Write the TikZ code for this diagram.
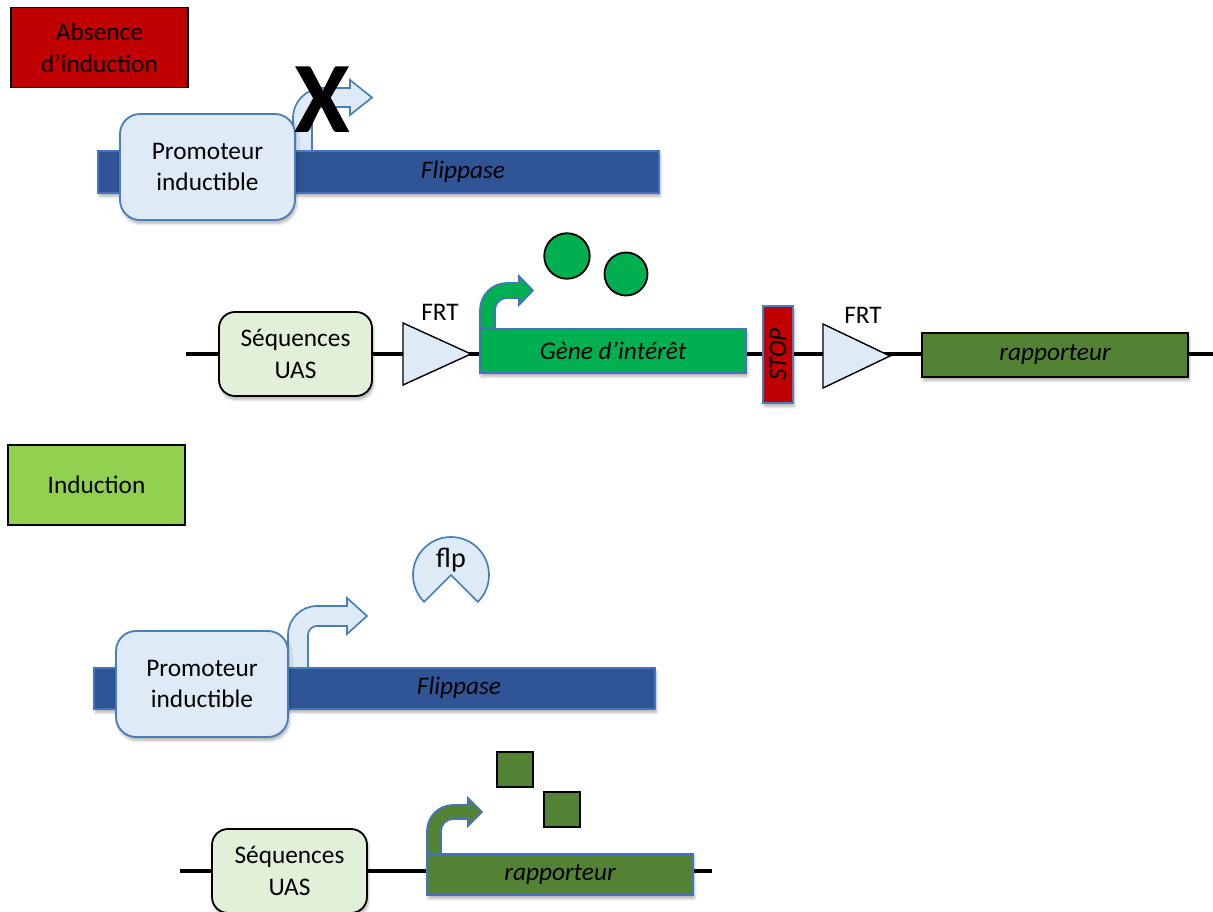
\documentclass[tikz,border=0pt]{standalone}
\usepackage{fontspec}
\setmainfont{Carlito}
\usetikzlibrary{shadows.blur}
\definecolor{dark-red}{HTML}{C00000}
\definecolor{lime-green}{HTML}{92D050}
\definecolor{flip-blue}{HTML}{2F5597}
\definecolor{edge-blue}{HTML}{4472C4}
\definecolor{promo-fill}{HTML}{DEEBF7}
\definecolor{promo-line}{HTML}{4A7EBB}
\definecolor{uas-fill}{HTML}{E2F0D9}
\definecolor{gene-green}{HTML}{00B050}
\definecolor{rep-green}{HTML}{548235}
\def\pxu{0.025cm}
% bent promoter arrow: style, x0, y0, shaft width, top y, radius, head x, head overhang, tip x
\newcommand{\bentarrow}[9]{%
  \draw[#1] (#2,#3) -- (#2,{#5+#6})
    .. controls (#2,{#5+0.448*#6}) and ({#2+0.448*#6},#5) .. ({#2+#6},#5)
    -- (#7,#5) -- (#7,{#5-#8}) -- (#9,{#5+#4/2}) -- (#7,{#5+#4+#8}) -- (#7,{#5+#4})
    -- ({#2+#6},{#5+#4})
    .. controls ({#2+#6-0.552*(#6-#4)},{#5+#4}) and ({#2+#4},{#5+#6-0.552*(#6-#4)}) .. ({#2+#4},{#5+#6})
    -- ({#2+#4},#3) -- cycle;}
\tikzset{
  soft/.style={blur shadow={shadow xshift=1pt, shadow yshift=-2.5pt, shadow blur steps=6, shadow opacity=30}},
  titlebox/.style={draw=black, line width=1.3pt, minimum width=177*\pxu, minimum height=80*\pxu, align=center},
  promobox/.style={draw=promo-line, fill=promo-fill, line width=1.3pt, rounded corners=0.5cm, soft,
    minimum height=106*\pxu, align=center},
  uasbox/.style={draw=black, fill=uas-fill, line width=1.3pt, rounded corners=0.4cm, soft,
    minimum height=84*\pxu, align=center},
  flipbar/.style={draw=edge-blue, fill=flip-blue, line width=1.2pt, soft, minimum width=561*\pxu},
  genebox/.style={line width=1.2pt, soft, minimum width=266*\pxu, font=\fontsize{18}{22.7}\selectfont\itshape},
  frt/.style={draw=black, fill=promo-fill, line width=1pt},
  dnaline/.style={line width=2.6pt},
  product/.style={draw=black, line width=1.3pt}
}
\begin{document}
\begin{tikzpicture}[x=0.025cm, y=-0.025cm,
    every node/.style={font=\fontsize{18}{22.7}\selectfont, inner sep=0pt, outer sep=0pt}]
  \useasboundingbox (0,0) rectangle (1213,912);

  % absence d'induction
  \node[titlebox, fill=dark-red] (absence) at (99.5,47.5) {Absence\\d’induction};
  \node[flipbar, minimum height=42*\pxu] (flipA) at (378.5,172) {};
  \node[font=\fontsize{18}{22.7}\selectfont\itshape] (flipAtxt) at (463,172) {Flippase};
  \bentarrow{draw=promo-line, fill=promo-fill, line width=1.2pt}{293}{151}{19}{88}{30}{350}{8}{372}
  \node[promobox, minimum width=175*\pxu] (promA) at (207.5,167) {Promoteur\\inductible};
  \node[font=\fontsize{72}{72}\selectfont\bfseries] (noexpr) at (322,100) {X};

  \coordinate (dnaAstart) at (186,354);
  \coordinate (dnaAend) at (1213,354);
  \draw[dnaline] (dnaAstart) -- (dnaAend);
  \node[uasbox, minimum width=153*\pxu] (uasA) at (295.5,354) {Séquences\\UAS};
  \draw[frt] (403,323) coordinate (frtA) -- (471,354) -- (403,385) -- cycle;
  \node (frtAtxt) at (440,312) {FRT};
  \node[genebox, draw=edge-blue, fill=gene-green, minimum height=44*\pxu] (gene) at (613,351) {Gène d’intérêt};
  \bentarrow{draw=edge-blue, fill=gene-green, line width=1.2pt}{480}{329}{15}{283}{27}{519}{7}{533}
  \node[product, fill=gene-green, circle, minimum size=45.5*\pxu] (protA) at (567,256) {};
  \node[product, fill=gene-green, circle, minimum size=43*\pxu] (protB) at (626,274) {};
  \node[draw=promo-line, fill=dark-red, line width=1.2pt, soft, rotate=90, minimum width=97*\pxu,
        minimum height=30*\pxu, font=\fontsize{18}{22.7}\selectfont\itshape] (stop) at (778,354.5) {STOP};
  \draw[frt] (823,324) coordinate (frtB) -- (890,356) -- (823,388) -- cycle;
  \node (frtBtxt) at (863,315) {FRT};
  \node[genebox, draw=black, fill=rep-green, minimum height=44*\pxu] (repA) at (1055,355) {rapporteur};

  % induction
  \node[titlebox, fill=lime-green] (induction) at (96.5,485) {Induction};
  \begin{scope}[shift={(451,575)}, y=0.025cm]
    \draw[draw=promo-line, fill=promo-fill, line width=1.2pt] (0,0) -- (-45:38)
      arc[start angle=-45, end angle=225, radius=38] -- cycle;
  \end{scope}
  \node[font=\fontsize{20}{24}\selectfont] (flp) at (451,560) {flp};
  \node[flipbar, minimum height=41*\pxu] (flipB) at (374.5,688.5) {};
  \node[font=\fontsize{18}{22.7}\selectfont\itshape] (flipBtxt) at (459,688) {Flippase};
  \bentarrow{draw=promo-line, fill=promo-fill, line width=1.2pt}{288}{668}{20}{606}{29}{347}{8}{367}
  \node[promobox, minimum width=172*\pxu] (promB) at (202,684) {Promoteur\\inductible};

  \coordinate (dnaBstart) at (180,871);
  \coordinate (dnaBend) at (712,871);
  \draw[dnaline] (dnaBstart) -- (dnaBend);
  \node[uasbox, minimum width=155*\pxu] (uasB) at (289.5,871) {Séquences\\UAS};
  \node[genebox, draw=edge-blue, fill=rep-green, minimum height=41*\pxu] (repB) at (560,874.5) {rapporteur};
  \bentarrow{draw=edge-blue, fill=rep-green, line width=1.2pt}{427}{854}{14}{805}{26}{468}{7}{482}
  \node[product, fill=rep-green, minimum width=36*\pxu, minimum height=35*\pxu] (repProtA) at (515,769.5) {};
  \node[product, fill=rep-green, minimum width=36*\pxu, minimum height=35*\pxu] (repProtB) at (562,809.5) {};
\end{tikzpicture}
\end{document}
